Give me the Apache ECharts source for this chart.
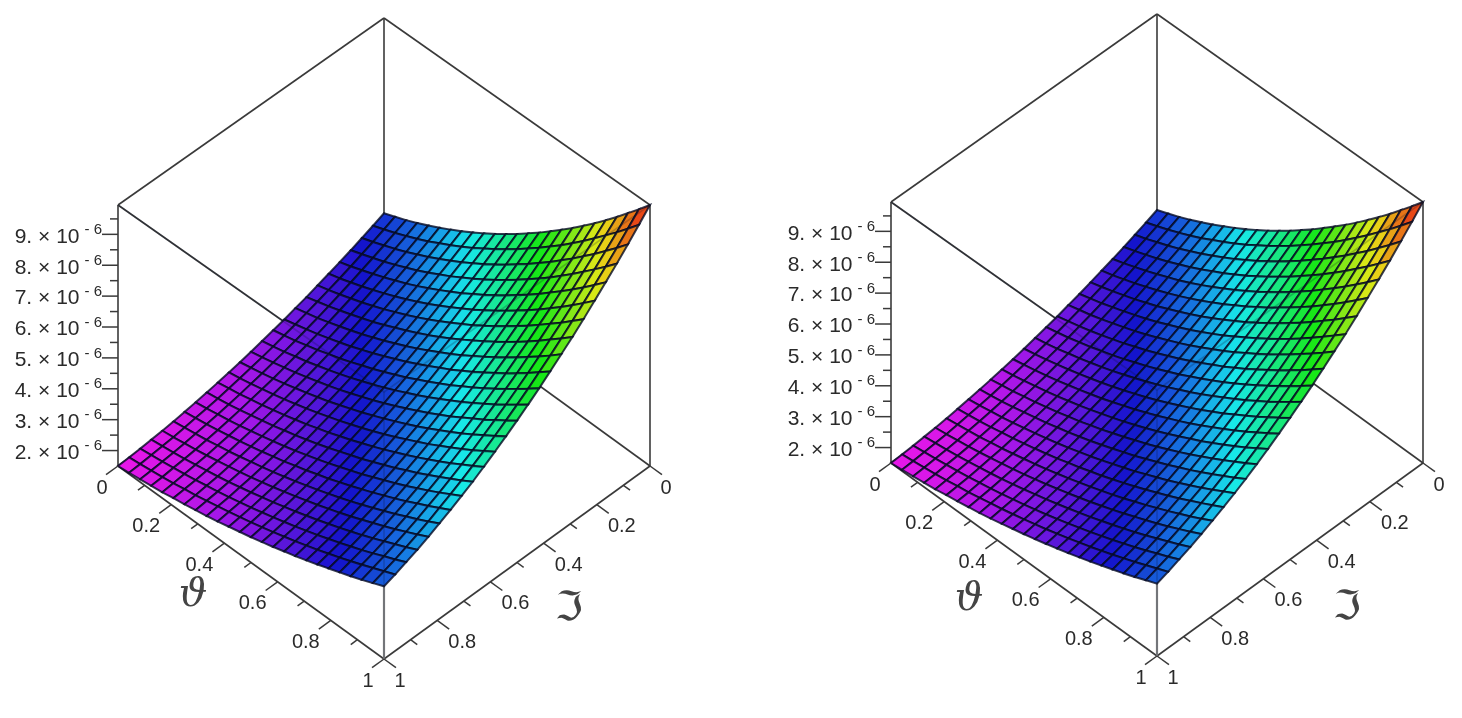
<!DOCTYPE html>
<html><head><meta charset="utf-8">
<style>html,body{margin:0;padding:0;background:#fff}#c{width:1462px;height:718px}</style>
<script src="https://cdn.jsdelivr.net/npm/echarts@6/dist/echarts.min.js"></script>
</head><body><div id="c"></div>
<script>
// rows: Im axis value S = 0 .. 1 ; columns: theta = 0 .. 1 ; values x 1e-6
const surfaceZ = [
[3.48,3.63,3.78,3.95,4.13,4.32,4.52,4.73,4.95,5.18,5.42,5.68,5.94,6.22,6.50,6.80,7.11,7.42,7.75,8.09,8.44,8.80,9.18,9.56,9.95],
[3.33,3.47,3.62,3.78,3.95,4.13,4.33,4.53,4.74,4.96,5.20,5.44,5.70,5.96,6.24,6.52,6.82,7.12,7.44,7.77,8.11,8.46,8.81,9.18,9.56],
[3.19,3.32,3.47,3.62,3.78,3.96,4.14,4.34,4.54,4.75,4.98,5.21,5.46,5.71,5.98,6.25,6.54,6.83,7.14,7.45,7.78,8.11,8.46,8.81,9.18],
[3.05,3.18,3.32,3.46,3.62,3.79,3.96,4.15,4.35,4.55,4.77,4.99,5.23,5.47,5.73,5.99,6.27,6.55,6.84,7.15,7.46,7.79,8.12,8.46,8.81],
[2.92,3.04,3.18,3.32,3.47,3.63,3.79,3.97,4.16,4.36,4.57,4.78,5.01,5.24,5.49,5.74,6.01,6.28,6.56,6.86,7.16,7.47,7.79,8.12,8.46],
[2.80,2.91,3.04,3.17,3.32,3.47,3.63,3.80,3.98,4.17,4.37,4.58,4.80,5.02,5.26,5.50,5.76,6.02,6.29,6.57,6.86,7.16,7.47,7.79,8.12],
[2.68,2.79,2.91,3.04,3.17,3.32,3.47,3.64,3.81,3.99,4.18,4.38,4.59,4.81,5.03,5.27,5.51,5.77,6.03,6.30,6.58,6.87,7.16,7.47,7.78],
[2.56,2.67,2.78,2.91,3.04,3.18,3.32,3.48,3.65,3.82,4.00,4.19,4.39,4.60,4.82,5.05,5.28,5.52,5.77,6.03,6.30,6.58,6.87,7.16,7.46],
[2.46,2.56,2.66,2.78,2.91,3.04,3.18,3.33,3.49,3.66,3.83,4.01,4.21,4.41,4.61,4.83,5.06,5.29,5.53,5.78,6.04,6.31,6.58,6.86,7.16],
[2.35,2.45,2.55,2.66,2.78,2.91,3.04,3.19,3.34,3.50,3.67,3.84,4.03,4.22,4.42,4.62,4.84,5.06,5.30,5.54,5.78,6.04,6.30,6.58,6.86],
[2.26,2.35,2.44,2.55,2.66,2.79,2.91,3.05,3.20,3.35,3.51,3.68,3.85,4.04,4.23,4.43,4.63,4.85,5.07,5.30,5.54,5.79,6.04,6.30,6.57],
[2.17,2.25,2.34,2.45,2.55,2.67,2.79,2.92,3.06,3.21,3.36,3.52,3.69,3.87,4.05,4.24,4.44,4.65,4.86,5.08,5.31,5.54,5.79,6.04,6.30],
[2.08,2.16,2.25,2.35,2.45,2.56,2.68,2.80,2.93,3.07,3.22,3.37,3.53,3.70,3.88,4.06,4.25,4.45,4.65,4.87,5.09,5.31,5.55,5.79,6.04],
[2.00,2.08,2.16,2.25,2.35,2.46,2.57,2.69,2.81,2.95,3.09,3.23,3.39,3.55,3.72,3.89,4.07,4.26,4.46,4.66,4.87,5.09,5.32,5.55,5.79],
[1.93,2.00,2.08,2.17,2.26,2.36,2.47,2.58,2.70,2.83,2.96,3.10,3.25,3.40,3.56,3.73,3.91,4.09,4.27,4.47,4.67,4.88,5.09,5.32,5.55],
[1.86,1.93,2.00,2.09,2.17,2.27,2.37,2.48,2.59,2.72,2.84,2.98,3.12,3.27,3.42,3.58,3.75,3.92,4.10,4.29,4.48,4.68,4.89,5.10,5.32],
[1.80,1.86,1.93,2.01,2.10,2.19,2.28,2.39,2.49,2.61,2.73,2.86,3.00,3.14,3.28,3.44,3.60,3.76,3.94,4.11,4.30,4.49,4.69,4.89,5.10],
[1.74,1.80,1.87,1.94,2.02,2.11,2.20,2.30,2.40,2.51,2.63,2.75,2.88,3.02,3.16,3.30,3.46,3.62,3.78,3.95,4.13,4.31,4.50,4.70,4.90],
[1.69,1.75,1.81,1.88,1.96,2.04,2.13,2.22,2.32,2.42,2.54,2.65,2.78,2.90,3.04,3.18,3.33,3.48,3.64,3.80,3.97,4.15,4.33,4.52,4.71],
[1.64,1.70,1.76,1.82,1.90,1.97,2.06,2.15,2.24,2.34,2.45,2.56,2.68,2.80,2.93,3.06,3.20,3.35,3.50,3.66,3.82,3.99,4.16,4.34,4.53],
[1.60,1.65,1.71,1.77,1.84,1.92,2.00,2.08,2.17,2.27,2.37,2.48,2.59,2.71,2.83,2.96,3.09,3.23,3.38,3.53,3.68,3.84,4.01,4.18,4.36],
[1.57,1.62,1.67,1.73,1.80,1.87,1.94,2.02,2.11,2.20,2.30,2.40,2.51,2.62,2.74,2.86,2.99,3.12,3.26,3.40,3.55,3.71,3.87,4.03,4.20],
[1.54,1.59,1.64,1.70,1.76,1.82,1.90,1.97,2.05,2.14,2.23,2.33,2.43,2.54,2.65,2.77,2.89,3.02,3.15,3.29,3.43,3.58,3.74,3.89,4.06],
[1.52,1.56,1.61,1.66,1.72,1.79,1.85,1.93,2.01,2.09,2.18,2.27,2.37,2.47,2.58,2.69,2.81,2.93,3.06,3.19,3.33,3.47,3.62,3.77,3.92],
[1.50,1.54,1.59,1.64,1.69,1.76,1.82,1.89,1.96,2.04,2.13,2.22,2.31,2.41,2.51,2.62,2.73,2.85,2.97,3.10,3.23,3.36,3.50,3.65,3.80]
];
const zMin = 1.5, zMax = 9.95;
const gridTheta = surfaceZ[0].map((_, i) => i / 24);
const gridIm = surfaceZ.map((_, j) => j / 24);
const zTicks = [2,2.5,3,3.5,4,4.5,5,5.5,6,6.5,7,7.5,8,8.5,9,9.5];
const zLabels = {2:'2.',3:'3.',4:'4.',5:'5.',6:'6.',7:'7.',8:'8.',9:'9.'};
const floorTicks = [0,0.1,0.2,0.3,0.4,0.5,0.6,0.7,0.8,0.9,1];
const floorLabels = {0:'0',0.2:'0.2',0.4:'0.4',0.6:'0.6',0.8:'0.8',1:'1'};
// edges of the box: [theta, S, level] -> [theta, S, level]
const backEdges = [
 [[0,0,1],[0,1,1]], [[0,0,1],[1,0,1]], [[0,1,1],[1,1,1]], [[1,0,1],[1,1,1]],
 [[0,1,0],[0,1,1]], [[1,0,0],[1,0,1]], [[0,0,0],[0,0,1]],
 [[0,1,0],[1,1,0]], [[1,0,0],[1,1,0]], [[0,0,0],[1,0,0]], [[0,0,0],[0,1,0]]
];
const seeThroughEdges = [ [[0,1,1],[1,1,1]], [[1,0,1],[1,1,1]], [[1,1,0],[1,1,1]] ];
const panels = [
 {left:118,right:650,back:273,depth:193,zhBack:255,zhSlope:6,titleT:[193,596],titleS:[569,610]},
 {left:891,right:1423,back:270,depth:193,zhBack:256,zhSlope:5,titleT:[969,600],titleS:[1347,609]}
];
const TXT = '#2a2a2a', SERIF = '"DejaVu Serif"', SANS = '"Liberation Sans"';

function hueColor(z){
  const f = Math.max(0, Math.min(1, (z - zMin) / (zMax - zMin)));
  const h = 300 * (1 - f);
  const l = (h > 200 && h < 280) ? 44 + Math.abs(h - 240) * 0.15 : 50;
  return 'hsl(' + h.toFixed(0) + ',82%,' + l.toFixed(0) + '%)';
}
function makeSeries(p, idx){
  const proj = (api, t, s, z) => api.coord([t - s, (z - zMin) / (zMax - zMin) * (p.zhBack + (t + s) * p.zhSlope) / p.depth - (t + s)]);
  const lvl = l => l ? zMax : zMin;
  const edgeShape = (api, e) => {
    const a = proj(api, e[0][0], e[0][1], lvl(e[0][2])), b = proj(api, e[1][0], e[1][1], lvl(e[1][2]));
    return {x1:a[0],y1:a[1],x2:b[0],y2:b[1]};
  };
  const base = {type:'custom',xAxisIndex:idx,yAxisIndex:idx,silent:true,animation:false,clip:false,encode:{x:0,y:1}};
  const cells = [];
  for (let j = 0; j < gridIm.length - 1; j++) for (let i = 0; i < gridTheta.length - 1; i++) cells.push([i, j]);
  const ticks = [];
  zTicks.forEach(v => ticks.push(['z', v]));
  floorTicks.forEach(v => { ticks.push(['t', v]); ticks.push(['s', v]); });
  return [
    Object.assign({}, base, {name:'frame'+idx, z:2, data:backEdges.map((_, i) => [i, 0]),
      renderItem:(params, api) => ({type:'line',shape:edgeShape(api,backEdges[params.dataIndex]),style:{stroke:'#3a3a3a',lineWidth:1.6}})}),
    Object.assign({}, base, {name:'frontEdge'+idx, z:2, data:[[0,0]],
      renderItem:(params, api) => ({type:'line',shape:edgeShape(api,seeThroughEdges[2]),style:{stroke:'#8a8a8a',lineWidth:2.2}})}),
    Object.assign({}, base, {name:'surface'+idx, z:3, data:cells,
      renderItem:(params, api) => {
        const i = api.value(0), j = api.value(1);
        const c = [[i,j],[i+1,j],[i+1,j+1],[i,j+1]];
        const pts = c.map(q => proj(api, gridTheta[q[0]], gridIm[q[1]], surfaceZ[q[1]][q[0]]));
        const avg = c.reduce((a,q) => a + surfaceZ[q[1]][q[0]], 0) / 4;
        return {type:'polygon',shape:{points:pts},style:{fill:hueColor(avg),stroke:'rgba(5,10,35,0.8)',lineWidth:2}};
      }}),
    Object.assign({}, base, {name:'seeThrough'+idx, z:4, data:seeThroughEdges.map((_, i) => [i, 0]),
      renderItem:(params, api) => ({type:'line',shape:edgeShape(api,seeThroughEdges[params.dataIndex]),style:{stroke:'rgba(10,20,40,0.22)',lineWidth:1.6}})}),
    Object.assign({}, base, {name:'ticks'+idx, z:5, data:ticks.map((_, i) => [i, 0]),
      renderItem:(params, api) => {
        const k = ticks[params.dataIndex], kind = k[0], v = k[1];
        const kids = [];
        const line = (a,b) => kids.push({type:'line',shape:{x1:a[0],y1:a[1],x2:b[0],y2:b[1]},style:{stroke:'#3a3a3a',lineWidth:1.5}});
        const txt = (x,y,text) => kids.push({type:'text',x,y,style:{text,fill:TXT,fontFamily:SANS,fontSize:20,align:'center',verticalAlign:'middle'}});
        if (kind === 'z') {
          const a = proj(api, 0, 1, v), major = zLabels[v] !== undefined;
          line(a, [a[0] - (major ? 16 : 8), a[1]]);
          if (major) kids.push({type:'text',x:a[0]-16,y:a[1],style:{
            text:'{m|' + zLabels[v] + ' × 10}{s|- 6}',align:'right',verticalAlign:'middle',
            rich:{m:{fontFamily:SANS,fontSize:21,fill:TXT,lineHeight:22,padding:[5,0,0,0]},
                  s:{fontFamily:SANS,fontSize:15,fill:TXT,lineHeight:15,padding:[0,0,9,5]}}}});
        } else {
          const major = floorLabels[v] !== undefined;
          const len = major ? 0.045 : 0.025;
          const a = kind === 't' ? proj(api, v, 1, zMin) : proj(api, 1, v, zMin);
          const b = kind === 't' ? proj(api, v, 1 + len, zMin) : proj(api, 1 + len, v, zMin);
          line(a, b);
          if (major) {
            const end = v === 0 || v === 1;
            const dx = end ? 16 : 25, dy = 22;
            txt(a[0] + (kind === 't' ? -dx : dx), a[1] + dy, floorLabels[v]);
          }
        }
        return {type:'group',children:kids};
      }}),
  ];
}
const chart = echarts.init(document.getElementById('c'), null, {renderer:'canvas'});
const series = [], grids = [], xAxes = [], yAxes = [], graphic = [];
panels.forEach((p, idx) => {
  grids.push({left:p.left,top:p.back-p.zhBack,width:p.right-p.left,height:p.zhBack+2*p.depth,show:false});
  xAxes.push({type:'value',gridIndex:idx,min:-1,max:1,show:false});
  yAxes.push({type:'value',gridIndex:idx,min:-2,max:p.zhBack/p.depth,show:false,scale:true});
  series.push(...makeSeries(p, idx));
  graphic.push({type:'text',x:p.titleT[0],y:p.titleT[1],silent:true,style:{text:'ϑ',fontFamily:SERIF,fontStyle:'italic',fontSize:40,fill:'#444',align:'center',verticalAlign:'middle'}});
  graphic.push({type:'text',x:p.titleS[0],y:p.titleS[1],silent:true,style:{text:'ℑ',fontFamily:'"DejaVu Sans"',fontSize:40,fill:'#444',align:'center',verticalAlign:'middle'}});
});
chart.setOption({animation:false,backgroundColor:'#fff',grid:grids,xAxis:xAxes,yAxis:yAxes,series,graphic});
</script></body></html>
